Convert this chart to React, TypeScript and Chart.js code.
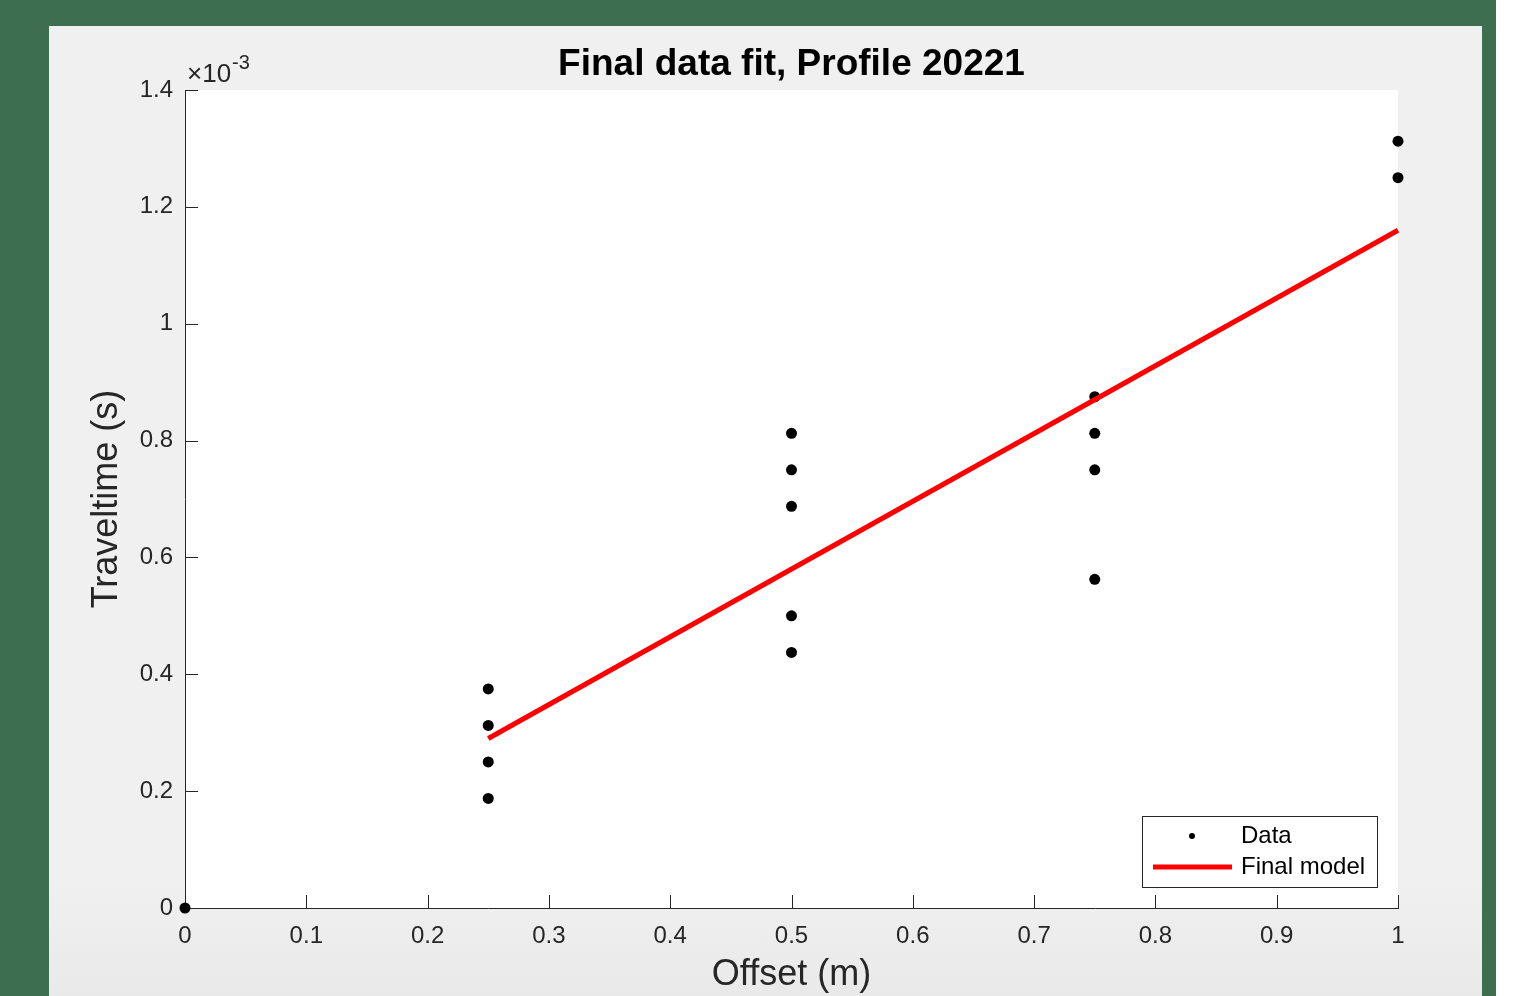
import React, { useEffect, useRef } from "react";
import { Chart, registerables } from "chart.js";

Chart.register(...registerables);

const TITLE = "Final data fit, Profile 20221";
const X_LABEL = "Offset (m)";
const Y_LABEL = "Traveltime (s)";
const Y_EXP_BASE = "×10";
const Y_EXP_POWER = "-3";

const dataOffsets = [0, 0.25, 0.25, 0.25, 0.25, 0.5, 0.5, 0.5, 0.5, 0.5, 0.75, 0.75, 0.75, 0.75, 1, 1];
const dataTimes = [
  0, 0.000375, 0.0003125, 0.00025, 0.0001875, 0.0008125, 0.00075, 0.0006875, 0.0005, 0.0004375,
  0.000875, 0.0008125, 0.00075, 0.0005625, 0.0013125, 0.00125,
];
const modelOffsets = [0.25, 1];
const modelTimes = [0.00029, 0.00116];

const X_MIN = 0;
const X_MAX = 1;
const X_STEP = 0.1;
const Y_MIN = 0;
const Y_MAX = 0.0014;
const Y_STEP = 0.0002;

const FONT = "'Liberation Sans', Arial, Helvetica, sans-serif";
const AXIS_COLOR = "#262626";

const matlabPlugin = {
  id: "matlabLook",
  beforeDraw(chart: any) {
    const { ctx, chartArea } = chart;
    const { left, top, right, bottom } = chartArea;
    ctx.save();
    ctx.fillStyle = "#ffffff";
    ctx.fillRect(left, top, right - left, bottom - top);
    ctx.restore();
  },
  beforeDatasetsDraw(chart: any) {
    const { ctx, chartArea, scales } = chart;
    const tl = 13;
    ctx.save();
    ctx.strokeStyle = AXIS_COLOR;
    ctx.lineWidth = 1;
    const xs = scales.x;
    xs.ticks.forEach((_t: any, i: number) => {
      const px = Math.round(xs.getPixelForTick(i)) + 0.5;
      ctx.beginPath();
      ctx.moveTo(px, chartArea.bottom);
      ctx.lineTo(px, chartArea.bottom - tl);
      ctx.stroke();
    });
    const ys = scales.y;
    ys.ticks.forEach((_t: any, i: number) => {
      const py = Math.round(ys.getPixelForTick(i)) + 0.5;
      ctx.beginPath();
      ctx.moveTo(chartArea.left, py);
      ctx.lineTo(chartArea.left + tl, py);
      ctx.stroke();
    });
    ctx.restore();
  },
  afterDraw(chart: any) {
    const { ctx, chartArea } = chart;
    const { left, top, right, bottom } = chartArea;
    ctx.save();
    // Title
    ctx.fillStyle = "#000000";
    ctx.font = `bold 37px ${FONT}`;
    ctx.textAlign = "center";
    ctx.textBaseline = "alphabetic";
    ctx.fillText(TITLE, (left + right) / 2, top - 15);

    // Exponent label
    ctx.fillStyle = AXIS_COLOR;
    ctx.textAlign = "left";
    ctx.font = `26px ${FONT}`;
    const ex = left + 2;
    ctx.fillText(Y_EXP_BASE, ex, top - 8);
    const w = ctx.measureText(Y_EXP_BASE).width;
    ctx.font = `20px ${FONT}`;
    ctx.fillText(Y_EXP_POWER, ex + w + 1, top - 21);

    // Legend
    const bw = 235;
    const bh = 71;
    const bx = right - 21 - bw;
    const by = bottom - 21 - bh;
    ctx.fillStyle = "#ffffff";
    ctx.fillRect(bx, by, bw, bh);
    ctx.strokeStyle = AXIS_COLOR;
    ctx.lineWidth = 1;
    ctx.strokeRect(Math.round(bx) + 0.5, Math.round(by) + 0.5, bw, bh);
    const ds = chart.data.datasets;
    const rows = [by + 20, by + 51];
    ctx.font = `24px ${FONT}`;
    ctx.textBaseline = "middle";
    ds.forEach((d: any, i: number) => {
      const ry = rows[i];
      if (d.showLine) {
        ctx.strokeStyle = d.borderColor;
        ctx.lineWidth = d.borderWidth;
        ctx.beginPath();
        ctx.moveTo(bx + 11, ry);
        ctx.lineTo(bx + 90, ry);
        ctx.stroke();
      } else {
        ctx.fillStyle = d.backgroundColor;
        ctx.beginPath();
        ctx.arc(bx + 50, ry, 3, 0, Math.PI * 2);
        ctx.fill();
      }
      ctx.fillStyle = "#000000";
      ctx.textAlign = "left";
      ctx.fillText(d.label, bx + 99, ry);
    });
    ctx.restore();
  },
};

export default function App() {
  const canvasRef = useRef<HTMLCanvasElement | null>(null);

  useEffect(() => {
    if (!canvasRef.current) return;
    const chart = new Chart(canvasRef.current, {
      type: "scatter",
      data: {
        datasets: [
          {
            label: "Data",
            data: dataOffsets.map((x, i) => ({ x, y: dataTimes[i] })),
            backgroundColor: "#000000",
            borderColor: "#000000",
            borderWidth: 0,
            pointRadius: 5.5,
            showLine: false,
            clip: false,
            order: 1,
          },
          {
            label: "Final model",
            data: modelOffsets.map((x, i) => ({ x, y: modelTimes[i] })),
            borderColor: "#ff0000",
            backgroundColor: "#ff0000",
            borderWidth: 5,
            pointRadius: 0,
            showLine: true,
            clip: false,
            order: 0,
          },
        ],
      } as any,
      options: {
        responsive: false,
        animation: false,
        devicePixelRatio: 1,
        layout: { padding: { top: 90, right: 116, left: 80, bottom: 0 } },
        plugins: {
          legend: { display: false },
          title: { display: false },
          tooltip: { enabled: false },
        },
        scales: {
          x: {
            type: "linear",
            min: X_MIN,
            max: X_MAX,
            grid: { display: false, drawTicks: false },
            border: { display: true, color: AXIS_COLOR, width: 1 },
            ticks: {
              stepSize: X_STEP,
              padding: 14,
              color: AXIS_COLOR,
              font: { size: 24, family: FONT },
              maxRotation: 0,
              autoSkip: false,
              callback: (v: any) => String(Math.round(Number(v) * 10) / 10),
            },
            title: {
              display: true,
              text: X_LABEL,
              color: AXIS_COLOR,
              font: { size: 36, family: FONT, lineHeight: 1 },
              padding: { top: 0, bottom: 2.5 },
            },
            afterFit: (s: any) => {
              s.height = 88;
            },
          },
          y: {
            type: "linear",
            min: Y_MIN,
            max: Y_MAX,
            grid: { display: false, drawTicks: false },
            border: { display: true, color: AXIS_COLOR, width: 1 },
            ticks: {
              stepSize: Y_STEP,
              padding: 12,
              color: AXIS_COLOR,
              font: { size: 24, family: FONT },
              autoSkip: false,
              callback: (v: any) => String(Math.round(Number(v) * 10000) / 10),
            },
            title: {
              display: true,
              text: Y_LABEL,
              color: AXIS_COLOR,
              font: { size: 36, family: FONT, lineHeight: 1 },
              padding: { top: 9.5, bottom: 0 },
            },
            afterFit: (s: any) => {
              s.width = 105;
            },
          },
        },
      } as any,
      plugins: [matlabPlugin],
    });
    return () => chart.destroy();
  }, []);

  return (
    <div
      style={{
        position: "fixed",
        left: 0,
        top: 0,
        width: 1514,
        height: 996,
        background: "#3e6e50",
        overflow: "hidden",
      }}
    >
      <div style={{ position: "absolute", left: 1496, top: 0, width: 18, height: 996, background: "#ffffff" }} />
      <div
        style={{
          position: "absolute",
          left: 49,
          top: 26,
          width: 1433,
          height: 970,
          background: "linear-gradient(to bottom, #f0f0f0 0%, #f0f0f0 88%, #e9e9e9 100%)",
        }}
      />
      <canvas
        ref={canvasRef}
        width={1514}
        height={996}
        style={{ position: "absolute", left: 0, top: 0, width: 1514, height: 996 }}
      />
    </div>
  );
}
